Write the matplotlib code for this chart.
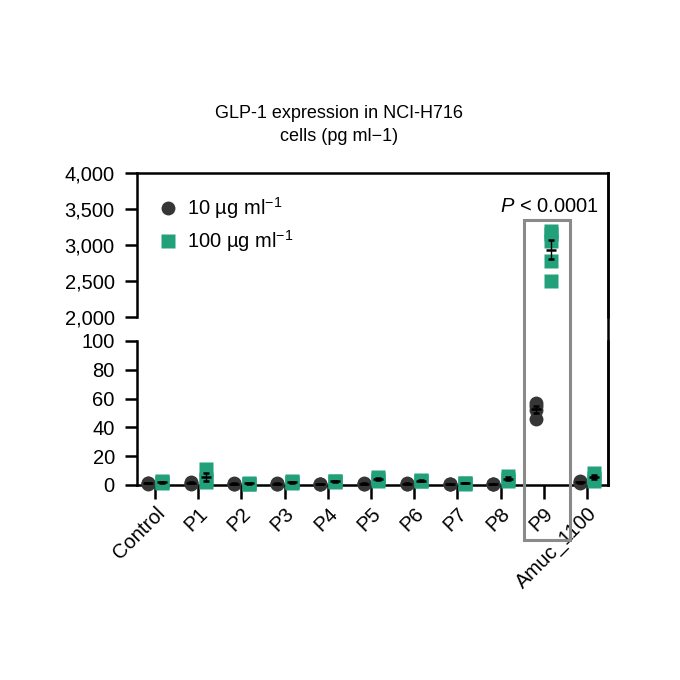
import numpy as np
import matplotlib
matplotlib.use('Agg')
import matplotlib.pyplot as plt
from matplotlib.patches import Rectangle
from matplotlib.lines import Line2D
from matplotlib.transforms import blended_transform_factory

plt.rcParams['font.family'] = ['Liberation Sans', 'DejaVu Sans']
plt.rcParams['mathtext.fontset'] = 'custom'
plt.rcParams['mathtext.it'] = 'Liberation Sans:italic'
plt.rcParams['mathtext.rm'] = 'Liberation Sans'

categories = ['Control', 'P1', 'P2', 'P3', 'P4', 'P5', 'P6', 'P7', 'P8', 'P9', 'Amuc_1100']

# replicate values (pg ml-1)
low_dose = [
    [1.5, 1.2, 1.0],
    [1.5, 1.0, 2.0],
    [1.0, 1.2, 0.8],
    [1.0, 1.2, 0.8],
    [0.5, 0.8, 0.6],
    [1.0, 0.8, 1.2],
    [1.0, 1.2, 0.9],
    [0.5, 0.6, 0.8],
    [0.6, 0.8, 0.5],
    [57, 55, 52, 46],
    [2.5, 2.0, 1.5],
]
high_dose = [
    [2.5, 2.0, 1.5],
    [11, 4, 2],
    [1.5, 1.0, 0.8],
    [2.5, 2.0, 1.5],
    [3.0, 2.5, 2.0],
    [5.5, 4.0, 3.0],
    [3.5, 3.0, 2.5],
    [1.5, 1.2, 1.0],
    [6.0, 4.0, 3.0],
    [3200, 3150, 3050, 2780, 2500],
    [8.0, 5.0, 3.0],
]

top_ticks = [2000, 2500, 3000, 3500, 4000]
top_labels = ['2,000', '2,500', '3,000', '3,500', '4,000']
bot_ticks = [0, 20, 40, 60, 80, 100]

grey = '#363636'
green = '#22a079'
lw = 1.8
fs = 14.5

fig = plt.figure(figsize=(6.8, 6.8), dpi=100)
left, width = 137 / 680, 471 / 680
ax_top = fig.add_axes([left, 1 - 317 / 680, width, 144 / 680])
ax_bot = fig.add_axes([left, 1 - 485 / 680, width, 144 / 680])

x = np.arange(len(categories))
off = 0.17

for ax, lo, hi in [(ax_top, 2000, 4000), (ax_bot, 0, 100)]:
    ax.patch.set_visible(False)
    for i in range(len(categories)):
        for vals, dx, mk, col in [(low_dose[i], -off, 'o', grey), (high_dose[i], off, 's', green)]:
            v = np.array(vals, dtype=float)
            m = v.mean()
            sem = v.std(ddof=1) / np.sqrt(len(v))
            keep = v[(v >= lo) & (v <= hi)]
            if len(keep):
                ax.plot(np.full(len(keep), i + dx), keep, linestyle='none', marker=mk,
                        ms=10, color=col, mec='none', clip_on=False, zorder=3)
            if lo <= m <= hi:
                ax.errorbar(i + dx, m, yerr=sem, fmt='_', color='black', ms=7, mew=1.8,
                            elinewidth=1.0, capsize=2.5, capthick=1.0, clip_on=False, zorder=4)
    ax.set_xlim(-0.42, 10.49)
    ax.set_ylim(lo, hi)
    for s in ax.spines.values():
        s.set_linewidth(lw)
    ax.tick_params(axis='y', length=9, width=lw, labelsize=fs, pad=7)
    ax.tick_params(axis='x', length=10, width=lw, labelsize=fs)

ax_top.spines['bottom'].set_visible(False)
ax_top.set_xticks([])
ax_top.set_yticks(top_ticks, top_labels)
ax_bot.spines['top'].set_visible(False)
ax_bot.set_yticks(bot_ticks)
ax_bot.set_xticks(x, categories, rotation=45, ha='right', rotation_mode='anchor')

# bridge right spine across the break
fig.add_artist(Line2D([left + width, left + width], [1 - 485 / 680, 1 - 173 / 680],
                      transform=fig.transFigure, color='black', lw=lw, zorder=6))

# legend
h1 = Line2D([], [], marker='o', ls='none', ms=10, color=grey, mec='none')
h2 = Line2D([], [], marker='s', ls='none', ms=10, color=green, mec='none')
ax_top.legend([h1, h2], ['10 µg ml$^{-1}$', '100 µg ml$^{-1}$'], loc='upper left',
              frameon=False, fontsize=fs, handletextpad=0.2, borderaxespad=0.0,
              bbox_to_anchor=(0.017, 0.9), labelspacing=0.35, handlelength=1.5)

# highlight box around P9
tr = blended_transform_factory(ax_bot.transData, fig.transFigure)
fig.add_artist(Rectangle((8.55, 1 - 540 / 680), 1.05, 320 / 680, transform=tr,
                         fill=False, edgecolor='#8a8a8a', lw=2.2, zorder=5))
fig.text(549 / 680, 1 - 207 / 680, '$P$ < 0.0001', ha='center', va='center', fontsize=fs)

fig.text(339 / 680, 1 - 125 / 680, 'GLP-1 expression in NCI-H716\ncells (pg ml\u22121)',
         ha='center', va='center', fontsize=13, linespacing=1.45)

fig.savefig('out.png', dpi=100)
